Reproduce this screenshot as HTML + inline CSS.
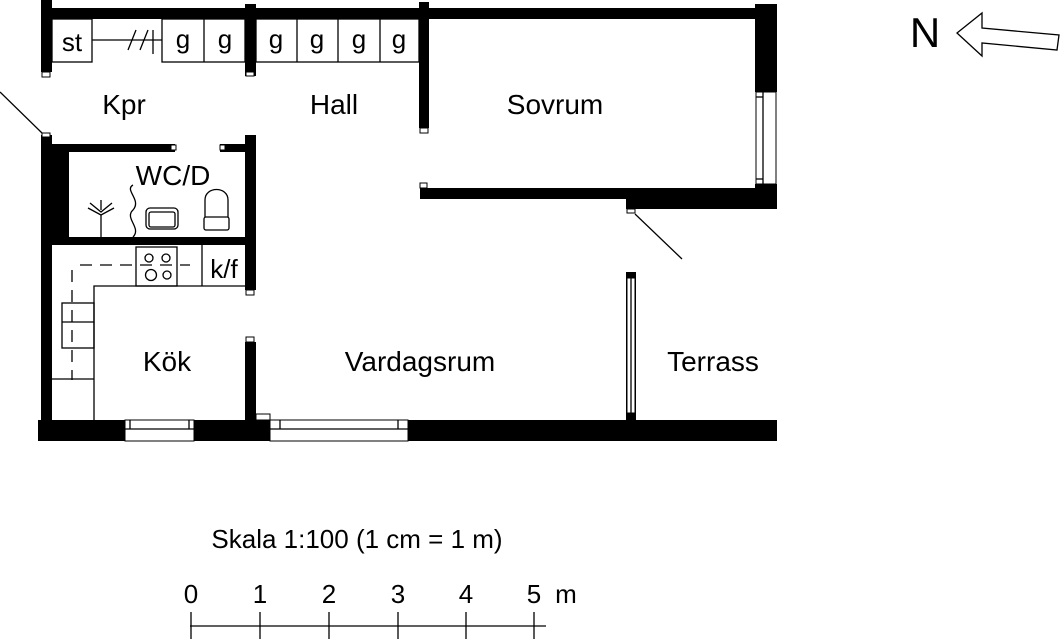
<!DOCTYPE html>
<html><head><meta charset="utf-8"><style>
html,body{margin:0;padding:0;background:#fff;}
svg{display:block;font-family:"Liberation Sans",Arial,sans-serif;}
</style></head><body>
<svg width="1061" height="639" viewBox="0 0 1061 639" xmlns="http://www.w3.org/2000/svg">
<g fill="#000">
<rect x="41" y="8" width="716" height="11"/>
<rect x="41" y="0" width="11" height="72"/>
<rect x="245" y="4" width="11" height="72"/>
<rect x="419" y="2" width="10" height="126"/>
<rect x="755" y="4" width="22" height="88"/>
<rect x="755" y="184" width="22" height="25"/>
<rect x="420" y="188" width="357" height="11"/>
<rect x="626" y="199" width="151" height="10"/>
<rect x="41" y="135" width="11" height="285"/>
<rect x="41" y="152" width="28" height="85"/>
<rect x="52" y="144" width="123" height="8"/>
<rect x="220" y="144" width="25" height="8"/>
<rect x="245" y="135" width="11" height="155"/>
<rect x="52" y="237" width="193" height="8"/>
<rect x="245" y="342" width="11" height="78"/>
<rect x="38" y="420" width="739" height="21"/>
<rect x="626" y="272" width="10" height="148"/>
</g>
<g fill="#fff" stroke="#000" stroke-width="1">
<rect x="42" y="72" width="8" height="5"/>
<rect x="246" y="72" width="8" height="4"/>
<rect x="420" y="128" width="8" height="5"/>
<rect x="420" y="183" width="7" height="5"/>
<rect x="627" y="209" width="8" height="4"/>
<rect x="42" y="133" width="8" height="4"/>
<rect x="171" y="145" width="5" height="5"/>
<rect x="220" y="145" width="5" height="5"/>
<rect x="246" y="290" width="8" height="5"/>
<rect x="246" y="337" width="8" height="5"/>
<rect x="756" y="92" width="20" height="92"/>
<rect x="125" y="420" width="69" height="21"/>
<rect x="270" y="420" width="138" height="21"/>
<rect x="627" y="278" width="8" height="135"/>
<rect x="256" y="414" width="14" height="6"/>
</g>
<g stroke="#000" stroke-width="1.3" fill="none">
<line x1="763" y1="92" x2="763" y2="184"/><line x1="756" y1="97" x2="763" y2="97"/><line x1="756" y1="179" x2="763" y2="179"/>
<line x1="125" y1="429" x2="194" y2="429"/><line x1="130" y1="420" x2="130" y2="429"/><line x1="189" y1="420" x2="189" y2="429"/>
<line x1="270" y1="429" x2="408" y2="429"/><line x1="280" y1="420" x2="280" y2="429"/><line x1="398" y1="420" x2="398" y2="429"/>
<line x1="631" y1="278" x2="631" y2="413"/>
<line x1="0" y1="92" x2="42" y2="133"/>
<line x1="635" y1="214" x2="682" y2="259"/>
<rect x="52" y="19" width="40" height="43"/>
<line x1="92" y1="40" x2="162" y2="40"/>
<line x1="128" y1="50" x2="136" y2="30"/><line x1="140" y1="50" x2="148" y2="30"/><line x1="153" y1="30" x2="153" y2="54"/>
<rect x="162" y="19" width="83" height="43"/><line x1="204" y1="19" x2="204" y2="62"/>
<rect x="256" y="19" width="163" height="43"/><line x1="297" y1="19" x2="297" y2="62"/><line x1="338" y1="19" x2="338" y2="62"/><line x1="380" y1="19" x2="380" y2="62"/>
<polyline points="94,420 94,286 245,286"/>
<rect x="136" y="247" width="41" height="39"/>
<line x1="202" y1="245" x2="202" y2="286"/>
<line x1="80" y1="265" x2="190" y2="265" stroke-dasharray="12,8"/>
<line x1="72" y1="270" x2="72" y2="380" stroke-dasharray="12,8"/>
<rect x="62" y="303" width="32" height="45"/><line x1="62" y1="322" x2="94" y2="322"/>
<line x1="52" y1="379" x2="94" y2="379"/>
<circle cx="149" cy="258" r="4"/><circle cx="166" cy="258" r="4"/><circle cx="151" cy="275" r="5.5"/><circle cx="167" cy="275" r="4"/>
<line x1="101" y1="215" x2="101" y2="237"/><path d="M88 208 L101 215 L114 208 M90 203 L101 212 L112 203 M101 200 L101 210"/>
<path d="M133 185 C124 190,142 200,133 210 C124 218,142 228,133 237"/>
<rect x="146" y="208" width="32" height="21" rx="4"/>
<rect x="149" y="212" width="26" height="15" rx="2"/>
<path d="M205 217 L205 200 C205 186,228 186,228 200 L228 217"/>
<rect x="204" y="217" width="25" height="13" rx="2"/>
<line x1="190" y1="626" x2="546" y2="626"/>
<line x1="191" y1="612" x2="191" y2="639"/><line x1="260" y1="612" x2="260" y2="639"/><line x1="329" y1="612" x2="329" y2="639"/><line x1="398" y1="612" x2="398" y2="639"/><line x1="466" y1="612" x2="466" y2="639"/><line x1="534" y1="612" x2="534" y2="639"/>
<polygon points="957,33 982,13 982,28 1059,35 1057,50 982,43 982,56"/>
</g>
<g fill="#000" text-anchor="middle" font-size="28">
<text x="124" y="114">Kpr</text>
<text x="334" y="114">Hall</text>
<text x="555" y="114">Sovrum</text>
<text x="173" y="185">WC/D</text>
<text x="167" y="371">Kök</text>
<text x="420" y="371">Vardagsrum</text>
<text x="713" y="371">Terrass</text>
<g font-size="26">
<text x="72" y="51">st</text>
<text x="183" y="48">g</text><text x="225" y="48">g</text>
<text x="276" y="48">g</text><text x="317" y="48">g</text><text x="359" y="48">g</text><text x="399" y="48">g</text>
<text x="224" y="278">k/f</text>
<text x="357" y="548">Skala 1:100 (1 cm = 1 m)</text>
<text x="191" y="603">0</text><text x="260" y="603">1</text><text x="329" y="603">2</text><text x="398" y="603">3</text><text x="466" y="603">4</text><text x="534" y="603">5</text><text x="566" y="603">m</text>
</g>
<text x="925" y="47" font-size="42">N</text>
</g>
</svg>
</body></html>
